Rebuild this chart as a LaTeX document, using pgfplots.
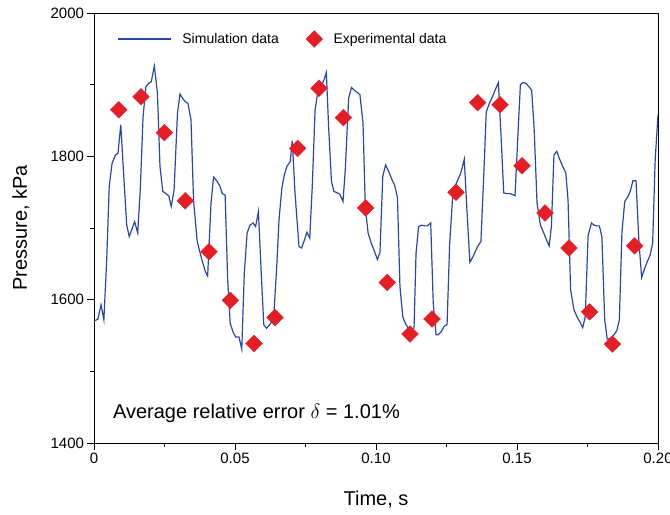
\documentclass[border=0pt]{standalone}
\usepackage{fontspec}
\setmainfont{Liberation Sans}
\usepackage{pgfplots}
\pgfplotsset{compat=1.18}
\definecolor{simblue}{RGB}{40,72,168}
\definecolor{expred}{RGB}{228,30,36}
\pgfplotsset{
 simleg/.style={legend image code/.code={\draw[##1] (0bp,0bp) -- (53bp,0bp);}},
 expleg/.style={legend image code/.code={\draw[##1] plot coordinates {(9bp,0bp)};}},
}
\begin{document}
\begin{tikzpicture}
\begin{axis}[
 scale only axis, width=564bp, height=430bp,
 xmin=0, xmax=0.2, ymin=1400, ymax=2000,
 xtick={0,0.05,0.1,0.15,0.2}, xticklabels={0,0.05,0.10,0.15,0.20},
 minor xtick={0.025,0.075,0.125,0.175},
 ytick={1400,1600,1800,2000}, yticklabels={1400,1600,1800,2000},
 minor ytick={1500,1700,1900},
 tick pos=left, tick align=outside,
 major tick length=6.5bp, minor tick length=3.5bp,
 every tick/.style={black, line width=0.8bp},
 axis line style={line width=0.9bp},
 ticklabel style={font=\fontsize{15bp}{18bp}\selectfont},
 xlabel={Time, s}, ylabel={Pressure, kPa},
 label style={font=\fontsize{20bp}{24bp}\selectfont},
 xlabel style={at={(axis description cs:0.5,-0.1465)}, anchor=base},
 ylabel style={at={(axis description cs:-0.1188,0.5)}, anchor=base},
 legend style={draw=none, fill=none, at={(rel axis cs:0.0408,0.9395)}, anchor=west, legend columns=2, font=\fontsize{14bp}{17bp}\selectfont, inner sep=0pt,
   /tikz/every odd column/.append style={column sep=9bp},
   /tikz/every even column/.append style={column sep=25bp}},
 legend cell align=left,
]
\addplot[simblue, line width=1.2bp, no marks, simleg] coordinates {
(0,1570) (0.0014,1573) (0.0025,1593) (0.0035,1572) (0.0045,1655) (0.0054,1758)
(0.0064,1790) (0.0076,1802) (0.0085,1804) (0.0095,1844) (0.0105,1776) (0.0116,1704)
(0.0125,1688) (0.0144,1709) (0.0155,1693) (0.0164,1753) (0.0174,1855) (0.0184,1897)
(0.0194,1902) (0.0203,1904) (0.0214,1926) (0.0225,1888) (0.0234,1786) (0.0244,1751)
(0.0255,1748) (0.0265,1745) (0.0274,1730) (0.0284,1753) (0.0296,1860) (0.0305,1887)
(0.0314,1881) (0.0324,1876) (0.0333,1874) (0.0344,1851) (0.0353,1739) (0.0366,1681)
(0.0383,1655) (0.0395,1639) (0.0403,1633) (0.0415,1735) (0.0424,1771) (0.0435,1766)
(0.0446,1759) (0.0455,1748) (0.0465,1746) (0.0474,1628) (0.0483,1567) (0.0493,1555)
(0.0502,1548) (0.0514,1548) (0.0524,1531) (0.0533,1637) (0.0543,1693) (0.0553,1704)
(0.0564,1707) (0.0573,1702) (0.0583,1723) (0.0592,1646) (0.0602,1565) (0.0612,1560)
(0.0623,1565) (0.0637,1574) (0.0648,1646) (0.0656,1711) (0.0666,1755) (0.0675,1774)
(0.0684,1786) (0.0696,1793) (0.0703,1822) (0.0713,1748) (0.0727,1674) (0.0736,1672)
(0.0746,1683) (0.0755,1694) (0.0765,1686) (0.0774,1758) (0.0784,1865) (0.0793,1888)
(0.0816,1907) (0.0824,1917) (0.0832,1841) (0.0842,1765) (0.0851,1751) (0.0863,1749)
(0.0872,1747) (0.0883,1737) (0.0891,1781) (0.0903,1881) (0.0913,1896) (0.0924,1892)
(0.0934,1889) (0.0943,1886) (0.0954,1846) (0.0962,1730) (0.0972,1693) (0.0983,1679)
(0.0995,1667) (0.1005,1656) (0.1014,1666) (0.1024,1772) (0.1034,1788) (0.1045,1779)
(0.1057,1767) (0.1066,1760) (0.1076,1743) (0.1085,1618) (0.1095,1576) (0.1104,1567)
(0.1116,1559) (0.1125,1553) (0.1135,1562) (0.1142,1665) (0.1151,1702) (0.1161,1704)
(0.1173,1703) (0.1182,1703) (0.1194,1707) (0.1203,1595) (0.1213,1551) (0.1221,1551)
(0.1231,1555) (0.1242,1563) (0.1252,1565) (0.1261,1676) (0.1271,1739) (0.1280,1758)
(0.1290,1767) (0.1299,1775) (0.1305,1783) (0.1313,1796) (0.1323,1721) (0.1333,1652)
(0.1344,1660) (0.1354,1669) (0.1363,1676) (0.1372,1681) (0.1382,1772) (0.1391,1862)
(0.1402,1874) (0.1413,1883) (0.1423,1893) (0.1434,1903) (0.1443,1832) (0.1453,1749)
(0.1462,1748) (0.1474,1748) (0.1483,1747) (0.1493,1745) (0.1503,1827) (0.1512,1900)
(0.1521,1903) (0.1531,1902) (0.1543,1897) (0.1552,1892) (0.1561,1837) (0.1571,1735)
(0.1583,1704) (0.1595,1693) (0.1604,1684) (0.1614,1675) (0.1622,1702) (0.1631,1802)
(0.1641,1807) (0.1650,1797) (0.1661,1787) (0.1673,1777) (0.1681,1739) (0.1690,1614)
(0.1702,1586) (0.1714,1575) (0.1723,1569) (0.1733,1561) (0.1742,1576) (0.1752,1689)
(0.1764,1707) (0.1773,1704) (0.1783,1703) (0.1792,1703) (0.1801,1688) (0.1811,1572)
(0.1820,1545) (0.1832,1546) (0.1844,1551) (0.1854,1557) (0.1863,1572) (0.1872,1693)
(0.1882,1737) (0.1894,1744) (0.1903,1753) (0.1911,1766) (0.1922,1766) (0.1932,1683)
(0.1942,1631) (0.1953,1644) (0.1962,1653) (0.1972,1662) (0.1981,1679) (0.1990,1795)
(0.2000,1858)
};
\addlegendentry{Simulation data}
\addplot[only marks, mark=square*, mark size=5.9bp, color=expred, mark options={rotate=45, draw=expred, fill=expred}, expleg] coordinates {
(0.00875,1865) (0.01667,1883) (0.02494,1833) (0.03239,1738) (0.04078,1667)
(0.04834,1599) (0.05674,1539) (0.06418,1575) (0.07222,1811) (0.07979,1895)
(0.0884,1854) (0.09634,1728) (0.10401,1624) (0.11206,1552) (0.11986,1573)
(0.12837,1750) (0.13605,1875) (0.14397,1872) (0.15177,1787) (0.15993,1721)
(0.16844,1672) (0.17578,1583) (0.18379,1538) (0.19172,1675)
};
\addlegendentry{Experimental data}
\node[anchor=base west, font=\fontsize{20bp}{24bp}\selectfont, inner sep=0pt] at (axis cs:0.0067,1434) {Average relative error $\delta$ = 1.01\%};
\end{axis}
\pgfresetboundingbox
\path (current axis.south west) ++(-94bp,-72bp) rectangle ++(670bp,515bp);
\end{tikzpicture}
\end{document}
